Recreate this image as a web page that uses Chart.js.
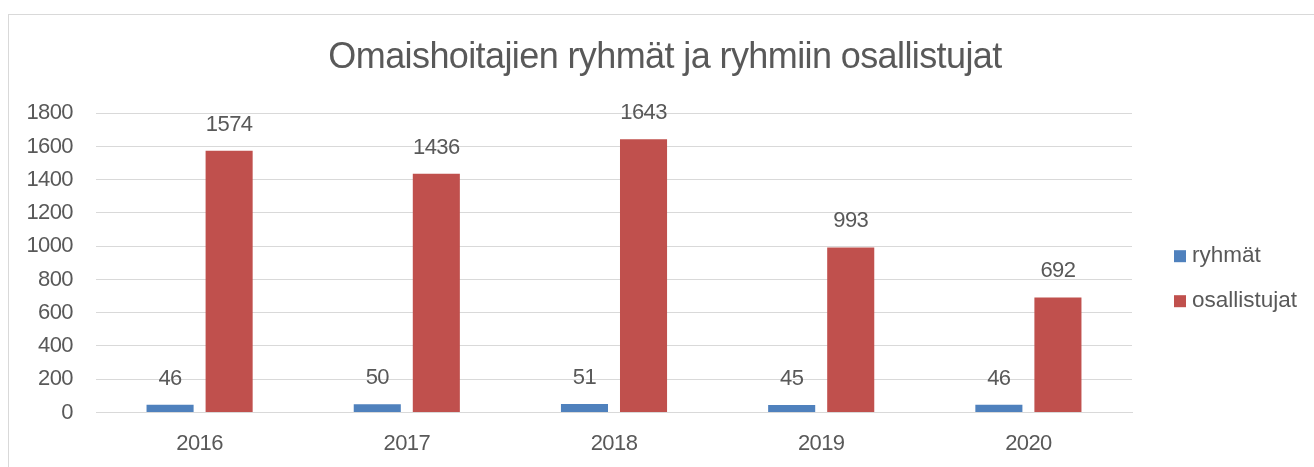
<!DOCTYPE html>
<html>
<head>
<meta charset="utf-8">
<title>Omaishoitajien ryhmät ja ryhmiin osallistujat</title>
<script src="https://cdn.jsdelivr.net/npm/chart.js@4/dist/chart.umd.min.js"></script>
<style>
  html, body { margin: 0; padding: 0; background: #ffffff; overflow: hidden; }
  body { width: 1314px; height: 467px; position: relative; }
  #frame {
    position: absolute; left: 8px; top: 14px;
    width: 1320px; height: 470px;
    border: 1px solid #d9d9d9; box-sizing: border-box;
  }
  #wrap { position: absolute; left: 9px; top: 15px; width: 1312px; height: 452px; }
</style>
</head>
<body>
<div id="frame"></div>
<div id="wrap"><canvas id="c" width="1312" height="452"></canvas></div>
<script>
// Years on the category axis
const years = ['2016', '2017', '2018', '2019', '2020'];
// Number of groups per year
const ryhmat = [46, 50, 51, 45, 46];
// Number of participants per year
const osallistujat = [1574, 1436, 1643, 993, 692];
// Series names
const seriesNames = ['ryhmät', 'osallistujat'];
const seriesColors = ['#4f81bd', '#c0504d'];
// Value axis
const yMax = 1800;
const yStep = 200;

const FONT = "'Liberation Sans', Arial, sans-serif";
const TEXT = '#595959';

// Slightly tighter letter spacing for all canvas text
const tightText = {
  id: 'tightText',
  beforeDraw(chart) { chart.ctx.letterSpacing = '-0.6px'; }
};

// Value labels above each bar
const barValueLabels = {
  id: 'barValueLabels',
  afterDatasetsDraw(chart) {
    const ctx = chart.ctx;
    ctx.save();
    ctx.font = '22px ' + FONT;
    ctx.fillStyle = TEXT;
    ctx.textAlign = 'center';
    ctx.textBaseline = 'bottom';
    chart.data.datasets.forEach((ds, i) => {
      chart.getDatasetMeta(i).data.forEach((bar, j) => {
        ctx.fillText(String(ds.data[j]), bar.x, bar.y - 15);
      });
    });
    ctx.restore();
  }
};

// Vertical legend to the right of the plot
const sideLegend = {
  id: 'sideLegend',
  afterDraw(chart) {
    const ctx = chart.ctx;
    const a = chart.chartArea;
    ctx.save();
    ctx.letterSpacing = '0px';
    ctx.font = '22.5px ' + FONT;
    ctx.textBaseline = 'middle';
    ctx.textAlign = 'left';
    chart.data.datasets.forEach((ds, i) => {
      const x = a.right + 42;
      const y = a.top + 143 + i * 45;
      ctx.fillStyle = ds.backgroundColor;
      ctx.fillRect(x, y - 6, 12, 12);
      ctx.fillStyle = TEXT;
      ctx.fillText(ds.label, x + 18, y);
    });
    ctx.restore();
  }
};

new Chart(document.getElementById('c'), {
  type: 'bar',
  data: {
    labels: years,
    datasets: [
      { label: seriesNames[0], data: ryhmat, backgroundColor: seriesColors[0] },
      { label: seriesNames[1], data: osallistujat, backgroundColor: seriesColors[1] }
    ]
  },
  options: {
    responsive: false,
    animation: false,
    devicePixelRatio: 1,
    categoryPercentage: 0.57,
    barPercentage: 0.797,
    layout: { padding: 0 },
    plugins: {
      legend: { display: false },
      tooltip: { enabled: false },
      title: {
        display: true,
        text: 'Omaishoitajien ryhmät ja ryhmiin osallistujat',
        color: TEXT,
        font: { family: FONT, size: 36, weight: 'normal' },
        padding: { top: 21, bottom: 34 }
      }
    },
    scales: {
      x: {
        grid: { display: false, drawTicks: false },
        border: { display: true, color: '#d9d9d9' },
        ticks: { color: TEXT, font: { family: FONT, size: 22 }, padding: 18 },
        afterFit(s) { s.height = 54.5; }
      },
      y: {
        min: 0, max: yMax,
        grid: { color: '#d9d9d9', drawTicks: false },
        border: { display: false },
        ticks: {
          stepSize: yStep, color: TEXT, font: { family: FONT, size: 22 }, padding: 23,
          callback: (v) => String(v)
        },
        afterFit(s) { s.width = 87; }
      },
      // empty band on the right that holds the legend
      legendBand: {
        position: 'right',
        grid: { display: false, drawTicks: false },
        border: { display: false },
        ticks: { display: false },
        afterFit(s) { s.width = 189; }
      }
    }
  },
  plugins: [tightText, barValueLabels, sideLegend]
});
</script>
</body>
</html>
